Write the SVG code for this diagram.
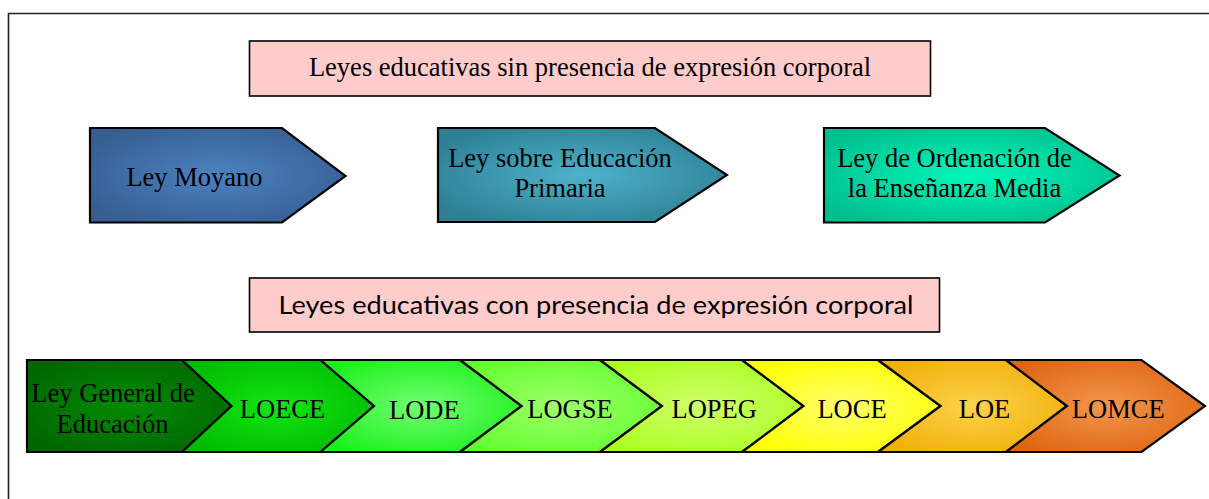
<svg xmlns="http://www.w3.org/2000/svg" width="1209" height="499" viewBox="0 0 1209 499">
<style>
.frame{fill:none;stroke:#222;stroke-width:1.6}
.title{fill:#ffcccc;stroke:#000;stroke-width:1.6}
.shape{stroke:#000;stroke-width:2.2;stroke-linejoin:miter}
.t{font-family:"Liberation Serif","Times New Roman",serif;font-size:26.5px;fill:#000;text-anchor:middle}
.s{font-family:Lato,"Liberation Sans",Arial,sans-serif;font-size:25px;fill:#000;text-anchor:middle}
</style>
<defs>
<radialGradient id="gMoy" cx="0.5" cy="0.5" r="0.6"><stop offset="0" stop-color="#4b82c2"/><stop offset="1" stop-color="#365e90"/></radialGradient>
<radialGradient id="gPri" cx="0.5" cy="0.5" r="0.6"><stop offset="0" stop-color="#4db2cc"/><stop offset="1" stop-color="#2d7f93"/></radialGradient>
<radialGradient id="gOrd" cx="0.5" cy="0.5" r="0.6"><stop offset="0" stop-color="#00f8ba"/><stop offset="1" stop-color="#00bf8e"/></radialGradient>
<radialGradient id="gLGE" cx="0.5" cy="0.5" r="0.6"><stop offset="0" stop-color="#008c00"/><stop offset="1" stop-color="#006600"/></radialGradient>
<radialGradient id="gLOECE" cx="0.5" cy="0.5" r="0.6"><stop offset="0" stop-color="#12e612"/><stop offset="1" stop-color="#00bb00"/></radialGradient>
<radialGradient id="gLODE" cx="0.5" cy="0.5" r="0.6"><stop offset="0" stop-color="#72ff72"/><stop offset="1" stop-color="#1cf01c"/></radialGradient>
<radialGradient id="gLOGSE" cx="0.5" cy="0.5" r="0.6"><stop offset="0" stop-color="#a0ff6a"/><stop offset="1" stop-color="#62ff30"/></radialGradient>
<radialGradient id="gLOPEG" cx="0.5" cy="0.5" r="0.6"><stop offset="0" stop-color="#d0ff6c"/><stop offset="1" stop-color="#aaff22"/></radialGradient>
<radialGradient id="gLOCE" cx="0.5" cy="0.5" r="0.6"><stop offset="0" stop-color="#ffff6e"/><stop offset="1" stop-color="#ffff00"/></radialGradient>
<radialGradient id="gLOE" cx="0.5" cy="0.5" r="0.6"><stop offset="0" stop-color="#fdd24c"/><stop offset="1" stop-color="#f1b00a"/></radialGradient>
<radialGradient id="gLOMCE" cx="0.5" cy="0.5" r="0.6"><stop offset="0" stop-color="#f3964c"/><stop offset="1" stop-color="#de6612"/></radialGradient>
</defs>
<rect width="1209" height="499" fill="#fff"/>
<path class="frame" d="M8.5 520 V13.5 H1220"/>

<g id="title-sin">
<rect class="title" x="249.5" y="41" width="681" height="55"/>
<text class="t" x="590" y="76">Leyes educativas sin presencia de expresión corporal</text>
</g>

<g id="ley-moyano">
<polygon class="shape" fill="url(#gMoy)" points="90,128 282,128 345.5,176 282,222.5 90,222.5"/>
<text class="t" x="194.5" y="186">Ley Moyano</text>
</g>

<g id="ley-primaria">
<polygon class="shape" fill="url(#gPri)" points="438,128 655,128 727,175 655,222 438,222"/>
<text class="t" x="560" y="166.5">Ley sobre Educación</text>
<text class="t" x="560" y="196.5">Primaria</text>
</g>

<g id="ley-ordenacion">
<polygon class="shape" fill="url(#gOrd)" points="824,128 1045,128 1119.5,175.5 1045,222.5 824,222.5"/>
<text class="t" x="954.5" y="166.5">Ley de Ordenación de</text>
<text class="t" x="954.5" y="196.5">la Enseñanza Media</text>
</g>

<g id="title-con">
<rect class="title" x="249.5" y="278" width="690" height="54"/>
<text class="s" x="596" y="314" textLength="635" lengthAdjust="spacingAndGlyphs">Leyes educativas con presencia de expresión corporal</text>
</g>

<g id="lge">
<polygon class="shape" fill="url(#gLGE)" points="27,360 182,360 231.5,406 182,452 27,452"/>
<text class="t" x="113" y="401.5">Ley General de</text>
<text class="t" x="112.5" y="433">Educación</text>
</g>

<g id="loece">
<polygon class="shape" fill="url(#gLOECE)" points="182,360 320.5,360 374,406 320.5,452 182,452 231.5,406"/>
<text class="t" x="282.5" y="417.5">LOECE</text>
</g>

<g id="lode">
<polygon class="shape" fill="url(#gLODE)" points="320.5,360 460,360 521.7,406 460,452 320.5,452 374,406"/>
<text class="t" x="424.3" y="419.3">LODE</text>
</g>

<g id="logse">
<polygon class="shape" fill="url(#gLOGSE)" points="460,360 600,360 662,406 600,452 460,452 521.7,406"/>
<text class="t" x="570" y="417.7">LOGSE</text>
</g>

<g id="lopeg">
<polygon class="shape" fill="url(#gLOPEG)" points="600,360 742,360 803.5,406 742,452 600,452 662,406"/>
<text class="t" x="714.2" y="417.7">LOPEG</text>
</g>

<g id="loce">
<polygon class="shape" fill="url(#gLOCE)" points="742,360 878,360 940.6,406 878,452 742,452 803.5,406"/>
<text class="t" x="852" y="417.7">LOCE</text>
</g>

<g id="loe">
<polygon class="shape" fill="url(#gLOE)" points="878,360 1006,360 1067,406 1006,452 878,452 940.6,406"/>
<text class="t" x="984.5" y="417.7">LOE</text>
</g>

<g id="lomce">
<polygon class="shape" fill="url(#gLOMCE)" points="1006,360 1141.5,360 1205,406 1141.5,452 1006,452 1067,406"/>
<text class="t" x="1118.2" y="417.7">LOMCE</text>
</g>

<g id="connectors"></g>
</svg>
